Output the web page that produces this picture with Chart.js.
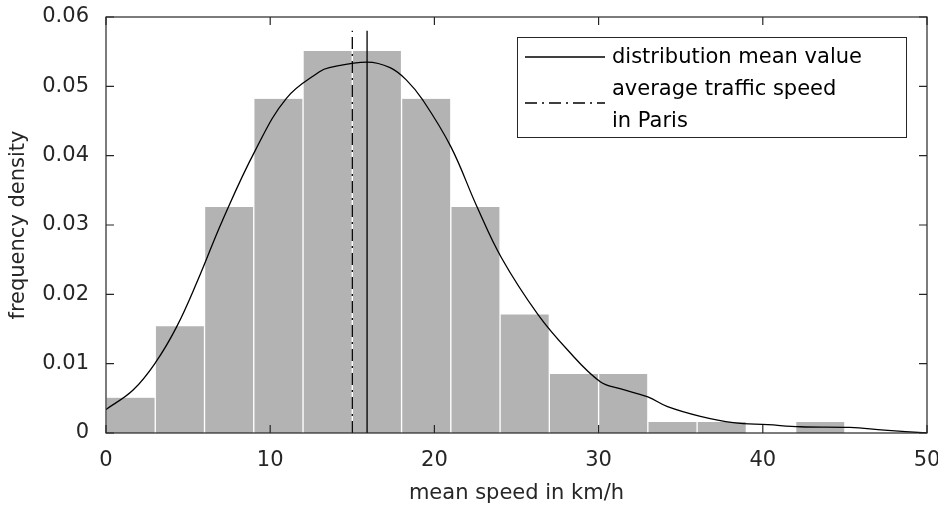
<!DOCTYPE html>
<html>
<head>
<meta charset="utf-8">
<script src="https://cdn.jsdelivr.net/npm/chart.js@4/dist/chart.umd.min.js"></script>
<style>
  html, body { margin: 0; padding: 0; background: #fff; }
</style>
</head>
<body>
<canvas id="speedChart" width="938" height="506"></canvas>
<script>
// histogram of mean speeds, 3 km/h bins (bin centres)
const binCenters = [1.5, 4.5, 7.5, 10.5, 13.5, 16.5, 19.5, 22.5, 25.5, 28.5, 31.5, 34.5, 37.5, 40.5, 43.5];
const binDensity = [0.0051, 0.0154, 0.0326, 0.0482, 0.0551, 0.0551, 0.0482, 0.0326, 0.0171, 0.0085, 0.0085, 0.0016, 0.0016, 0, 0.0016];

// smoothed density estimate
const curveSpeed = [0, 1.65, 3.0, 4.3, 5.6, 7.1, 9.1, 11.0, 13.0, 13.6, 15.9, 17.3, 18.3, 19.3, 21.0, 22.6, 24.1, 26.3, 28.1, 30.1, 31.3, 33.0, 34.2, 36.2, 38.2, 40.3, 42.3, 45.3, 47.4, 50];
const curveDensity = [0.0034, 0.0062, 0.0101, 0.0153, 0.0221, 0.0307, 0.0408, 0.0483, 0.0521, 0.0527, 0.0535, 0.0527, 0.0509, 0.0480, 0.0413, 0.0326, 0.0252, 0.0171, 0.0120, 0.0074, 0.0064, 0.0052, 0.0038, 0.0024, 0.0015, 0.0012, 0.0009, 0.0008, 0.0004, 0];

// reference speeds (km/h)
const meanSpeed = 15.9;
const parisSpeed = 15.0;
const markerTop = 0.058;

const xTicks = [0, 10, 20, 30, 40, 50];
const yTicks = [0, 0.01, 0.02, 0.03, 0.04, 0.05, 0.06];

const legendLabels = [['distribution mean value'], ['average traffic speed', 'in Paris']];

const FONT = 'DejaVu Sans';
const INK = '#262626';
const dashDot = [12, 5, 2, 5];

// axes box with inward tick marks on all four sides
const axesBox = {
  id: 'axesBox',
  afterDatasetsDraw(chart) {
    const { ctx, chartArea: a, scales: { x, y } } = chart;
    const len = 8;
    ctx.save();
    ctx.strokeStyle = INK;
    ctx.lineWidth = 1.2;
    ctx.strokeRect(a.left, a.top, a.right - a.left, a.bottom - a.top);
    ctx.beginPath();
    x.ticks.forEach(t => {
      const px = x.getPixelForValue(t.value);
      ctx.moveTo(px, a.bottom); ctx.lineTo(px, a.bottom - len);
      ctx.moveTo(px, a.top); ctx.lineTo(px, a.top + len);
    });
    y.ticks.forEach(t => {
      const py = y.getPixelForValue(t.value);
      ctx.moveTo(a.left, py); ctx.lineTo(a.left + len, py);
      ctx.moveTo(a.right, py); ctx.lineTo(a.right - len, py);
    });
    ctx.stroke();
    ctx.restore();
  }
};

// boxed legend in the upper right corner
const boxLegend = {
  id: 'boxLegend',
  afterDraw(chart) {
    const { ctx, chartArea: a } = chart;
    const left = a.right - 410, top = a.top + 20;
    const w = 389, h = 100;
    ctx.save();
    ctx.fillStyle = '#fff';
    ctx.fillRect(left, top, w, h);
    ctx.strokeStyle = INK;
    ctx.lineWidth = 1;
    ctx.strokeRect(left + 0.5, top + 0.5, w, h);

    ctx.strokeStyle = '#000';
    ctx.lineWidth = 1.3;
    ctx.beginPath();
    ctx.moveTo(left + 8, top + 20); ctx.lineTo(left + 88, top + 20);
    ctx.stroke();
    ctx.setLineDash(dashDot);
    ctx.beginPath();
    ctx.moveTo(left + 8, top + 66); ctx.lineTo(left + 88, top + 66);
    ctx.stroke();
    ctx.setLineDash([]);

    ctx.fillStyle = '#000';
    ctx.font = '21px "' + FONT + '"';
    ctx.textBaseline = 'middle';
    ctx.textAlign = 'left';
    ctx.fillText(legendLabels[0][0], left + 95, top + 21);
    ctx.fillText(legendLabels[1][0], left + 95, top + 53);
    ctx.fillText(legendLabels[1][1], left + 95, top + 85);
    ctx.restore();
  }
};

// keep the plot area fixed: no extra room for overhanging edge labels
const noEdgePadding = scale => {
  scale.paddingLeft = 0;
  scale.paddingRight = 0;
  scale.paddingTop = 0;
  scale.paddingBottom = 0;
};

const ctx = document.getElementById('speedChart').getContext('2d');
new Chart(ctx, {
  type: 'bar',
  data: {
    datasets: [
      {
        type: 'line',
        label: 'density',
        data: curveSpeed.map((s, i) => ({ x: s, y: curveDensity[i] })),
        borderColor: '#000',
        borderWidth: 1.3,
        pointRadius: 0,
        fill: false,
        tension: 0.4,
        order: 1
      },
      {
        type: 'line',
        label: 'distribution mean value',
        data: [{ x: meanSpeed, y: 0 }, { x: meanSpeed, y: markerTop }],
        borderColor: '#000',
        borderWidth: 1.3,
        pointRadius: 0,
        fill: false,
        order: 0
      },
      {
        type: 'line',
        label: 'average traffic speed in Paris',
        data: [{ x: parisSpeed, y: 0 }, { x: parisSpeed, y: markerTop }],
        borderColor: '#000',
        borderWidth: 1.3,
        borderDash: dashDot,
        pointRadius: 0,
        fill: false,
        order: 0
      },
      {
        label: 'histogram',
        data: binCenters.map((c, i) => ({ x: c, y: binDensity[i] })),
        backgroundColor: '#b3b3b3',
        borderColor: '#ffffff',
        borderWidth: { left: 1, right: 1, top: 0, bottom: 0 },
        borderSkipped: false,
        barPercentage: 1,
        categoryPercentage: 1,
        order: 2
      }
    ]
  },
  options: {
    responsive: false,
    animation: false,
    layout: { padding: { left: 0, right: 11, top: 17, bottom: 0 } },
    plugins: {
      legend: { display: false },
      tooltip: { enabled: false }
    },
    scales: {
      x: {
        type: 'linear',
        min: 0,
        max: 50,
        offset: false,
        grid: { display: false, drawTicks: false },
        border: { display: false },
        afterBuildTicks: scale => { scale.ticks = xTicks.map(v => ({ value: v })); },
        afterFit: scale => { scale.height = 73; noEdgePadding(scale); },
        ticks: {
          padding: 15,
          maxRotation: 0,
          color: INK,
          font: { family: FONT, size: 21 }
        },
        title: {
          display: true,
          text: 'mean speed in km/h',
          color: INK,
          padding: { top: 0, bottom: 0 },
          font: { family: FONT, size: 21 }
        }
      },
      y: {
        min: 0,
        max: 0.06,
        grid: { display: false, drawTicks: false },
        border: { display: false },
        afterBuildTicks: scale => { scale.ticks = yTicks.map(v => ({ value: v })); },
        afterFit: scale => { scale.width = 106; noEdgePadding(scale); },
        ticks: {
          padding: 17,
          color: INK,
          font: { family: FONT, size: 21 },
          callback: v => (v === 0 ? '0' : v.toFixed(2))
        },
        title: {
          display: true,
          text: 'frequency density',
          color: INK,
          padding: { top: 6, bottom: 0 },
          font: { family: FONT, size: 21 }
        }
      }
    }
  },
  plugins: [axesBox, boxLegend]
});
</script>
</body>
</html>
